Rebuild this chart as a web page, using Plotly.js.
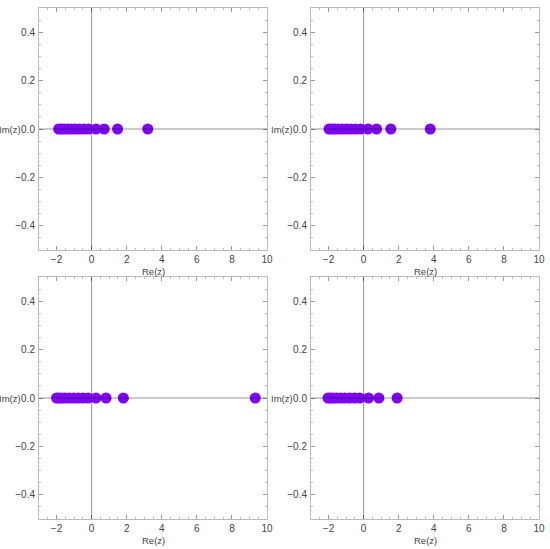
<!DOCTYPE html>
<html><head><meta charset="utf-8">
<script src="https://cdn.plot.ly/plotly-3.0.1.min.js"></script>
<style>html,body{margin:0;padding:0;background:#fff}#plot{width:550px;height:549px}</style>
</head><body><div id="plot"></div>
<script>
// Real parts of the zeros (imaginary parts are 0) in each panel
var re1 = [-1.88,-1.72,-1.55,-1.36,-1.15,-0.93,-0.69,-0.44,-0.17,0.25,0.72,1.48,3.2];
var re2 = [-1.97,-1.82,-1.64,-1.44,-1.22,-0.98,-0.73,-0.46,-0.18,0.25,0.74,1.55,3.8];
var re3 = [-2.0,-1.86,-1.69,-1.49,-1.27,-1.03,-0.77,-0.49,-0.2,0.25,0.82,1.81,9.33];
var re4 = [-2.03,-1.9,-1.73,-1.53,-1.31,-1.07,-0.8,-0.52,-0.22,0.28,0.87,1.91];
var im1 = re1.map(function(){return 0;});
var im2 = re2.map(function(){return 0;});
var im3 = re3.map(function(){return 0;});
var im4 = re4.map(function(){return 0;});
var xTicks = [-2,0,2,4,6,8,10];
var yTicks = [-0.4,-0.2,0.0,0.2,0.4];
var yTickText = ["\u22120.4","\u22120.2","0.0","0.2","0.4"];
var xLabel = "Re(z)", yLabel = "Im(z)";

var W = 550, H = 549;
var panels = [
  {re: re1, im: im1, x0: 39, x1: 267, y0: 8, y1: 250},
  {re: re2, im: im2, x0: 311, x1: 539, y0: 8, y1: 250},
  {re: re3, im: im3, x0: 39, x1: 267, y0: 277, y1: 519},
  {re: re4, im: im4, x0: 311, x1: 539, y0: 277, y1: 519}
];
var color = '#7f00ff';
var tickFont = {family: 'Liberation Sans, Arial, sans-serif', size: 10, color: '#444'};
var labelFont = {family: 'Liberation Sans, Arial, sans-serif', size: 9.5, color: '#444'};
var data = [], shapes = [], annotations = [];
var layout = {
  width: W, height: H, margin: {l:0, r:0, t:0, b:0},
  paper_bgcolor: '#fff', plot_bgcolor: '#fff', showlegend: false
};
panels.forEach(function(p, i){
  var n = i + 1;
  var xa = 'x' + (n === 1 ? '' : n), ya = 'y' + (n === 1 ? '' : n);
  var xk = 'xaxis' + (n === 1 ? '' : n), yk = 'yaxis' + (n === 1 ? '' : n);
  data.push({
    type: 'scatter', mode: 'markers', x: p.re, y: p.im, xaxis: xa, yaxis: ya,
    marker: {color: color, size: 11, line: {width: 0}}, hoverinfo: 'x+y'
  });
  layout[xk] = {
    domain: [p.x0 / W, p.x1 / W], anchor: ya, range: [-3, 10],
    tickvals: xTicks, ticks: 'inside', ticklen: 4, tickcolor: '#999', tickwidth: 1,
    minor: {dtick: 0.5, tick0: 0, ticks: 'inside', ticklen: 2, tickcolor: '#bbb', showgrid: false},
    showline: true, linecolor: '#bbb', linewidth: 1, mirror: 'allticks',
    showgrid: false, zeroline: false, tickfont: tickFont, fixedrange: true
  };
  layout[yk] = {
    domain: [1 - p.y1 / H, 1 - p.y0 / H], anchor: xa, range: [-0.5, 0.5],
    tickvals: yTicks, ticktext: yTickText, ticks: 'inside', ticklen: 4, tickcolor: '#999', tickwidth: 1,
    minor: {dtick: 0.05, tick0: 0, ticks: 'inside', ticklen: 2, tickcolor: '#bbb', showgrid: false},
    showline: true, linecolor: '#bbb', linewidth: 1, mirror: 'allticks',
    showgrid: false, zeroline: false, tickfont: tickFont, fixedrange: true,
    ticklabelstandoff: 1
  };
  // coordinate axes drawn over the points
  shapes.push({type: 'line', xref: xa, yref: ya, x0: -3, x1: 10, y0: 0, y1: 0,
    line: {color: 'rgba(0,0,0,0.42)', width: 1}, layer: 'above'});
  shapes.push({type: 'line', xref: xa, yref: ya, x0: 0, x1: 0, y0: -0.5, y1: 0.5,
    line: {color: 'rgba(0,0,0,0.42)', width: 1}, layer: 'above'});
  annotations.push({xref: 'paper', yref: 'paper', x: (p.x0 + p.x1) / 2 / W, y: 1 - (p.y1 + 21) / H,
    text: xLabel, showarrow: false, xanchor: 'center', yanchor: 'middle', font: labelFont});
  annotations.push({xref: 'paper', yref: 'paper', x: (p.x0 - 29) / W, y: 1 - ((p.y0 + p.y1) / 2) / H,
    text: yLabel, showarrow: false, xanchor: 'center', yanchor: 'middle', font: labelFont});
});
layout.shapes = shapes;
layout.annotations = annotations;
Plotly.newPlot('plot', data, layout, {displayModeBar: false, staticPlot: true});
</script></body></html>
